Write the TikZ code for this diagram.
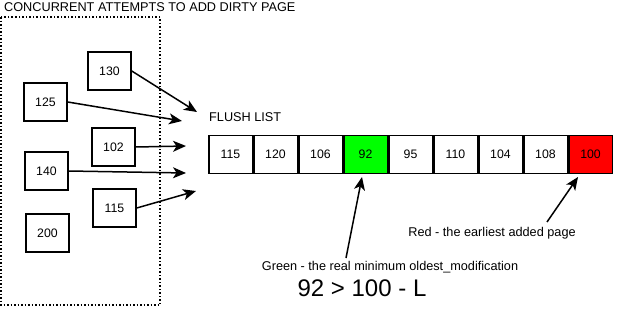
\documentclass[tikz,border=0pt]{standalone}
\usepackage{fontspec}
\setmainfont{Liberation Sans}
\usetikzlibrary{arrows.meta}
\begin{document}
\begin{tikzpicture}[x=1pt,y=-1pt,
  pagebox/.style={draw,line width=1.5pt,minimum width=43pt,minimum height=38pt,inner sep=0pt,font=\fontsize{12.3}{14}\selectfont},
  cell/.style={draw,line width=1.5pt,minimum width=43.5pt,minimum height=38pt,inner sep=0pt,font=\fontsize{12.3}{14}\selectfont},
  arr/.style={line width=1.5pt,-{Stealth[length=13pt,width=11pt,inset=3.5pt]}},
  lbl/.style={font=\fontsize{12.7}{15}\selectfont,inner sep=0pt}]
\useasboundingbox (0,0) rectangle (617,308);
\fill[white] (0,0) rectangle (617,308);
% group frame
\draw[line width=1.5pt,dotted] (1,17) rectangle (160,305);
\node[lbl,anchor=west] (title) at (4,7) {CONCURRENT ATTEMPTS TO ADD DIRTY PAGE};
% pages
\node[pagebox] (p130) at (109.5,71) {130};
\node[pagebox] (p125) at (45.5,102) {125};
\node[pagebox] (p102) at (113.5,147) {102};
\node[pagebox] (p140) at (46.5,171) {140};
\node[pagebox] (p115) at (114.5,208) {115};
\node[pagebox] (p200) at (47.5,233) {200};
% arrow targets
\coordinate (t1) at (197,112);
\coordinate (t2) at (182,121);
\coordinate (t3) at (186,146);
\coordinate (t4) at (186,173);
\coordinate (t5) at (196,191);
\draw[arr] (p130.east) -- (t1);
\draw[arr] (p125.east) -- (t2);
\draw[arr] (p102.east) -- (t3);
\draw[arr] (p140.east) -- (t4);
\draw[arr] (p115.east) -- (t5);
% flush list
\node[lbl,anchor=west] (fl) at (209,117) {FLUSH LIST};
\foreach \v [count=\i] in {115,120,106,92,95,110,104,108,100}{
  \node[cell] (c\i) at ({208+22.5+(\i-1)*45},154.5) {\v};
}
\node[cell,fill={rgb,255:red,0;green,255;blue,0}] at (c4) {92};
\node[cell,fill={rgb,255:red,255;green,0;blue,0}] at (c9) {100};
% annotations
\node[lbl] (red) at (492,233) {Red - the earliest added page};
\node[lbl] (green) at (390,267) {Green - the real minimum oldest\_modification};
\node[font=\fontsize{24}{28}\selectfont,inner sep=0pt] (ineq) at (362,288) {92 > 100 - L};
\coordinate (g0) at (346,258);
\coordinate (r0) at (547,222);
\draw[arr] (g0) -- (362,177);
\draw[arr] (r0) -- (578,177);
\end{tikzpicture}
\end{document}
